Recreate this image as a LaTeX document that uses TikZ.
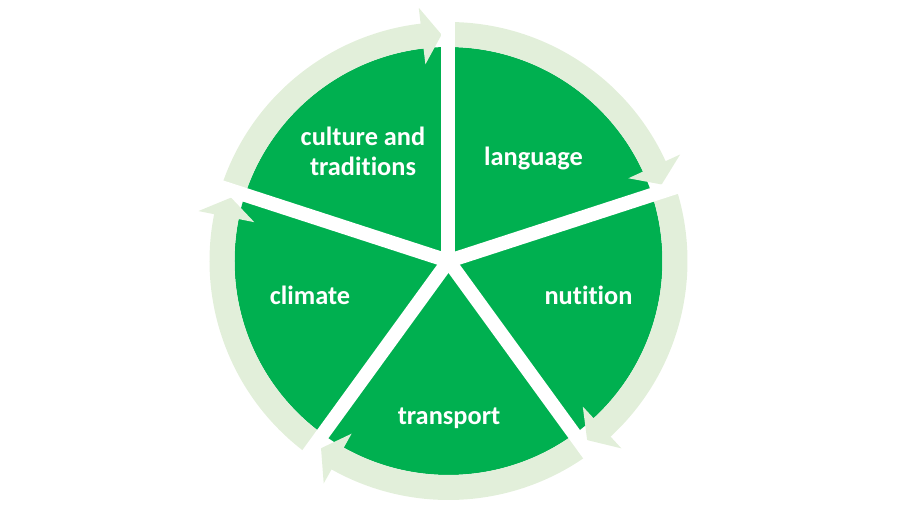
\documentclass[tikz,border=0pt]{standalone}
\usepackage{fontspec}
\setmainfont[RawFeature={-liga}]{Carlito}
\usepackage{tikz}
\definecolor{segGreen}{RGB}{0,176,80}
\definecolor{ringGreen}{RGB}{226,239,218}

\begin{document}
\begin{tikzpicture}[x=0.02cm,y=0.02cm,
    seglabel/.style={text=white,font=\bfseries\fontsize{15}{17}\selectfont,align=center}]
  \useasboundingbox (-448.5,-264) rectangle (451.5,261);
  \coordinate (O) at (0,0);
  \fill[segGreen] (O) circle (214);
  % ring of arrows, clockwise
  \foreach \b in {90,18,-54,-126,162} {
    \pgfmathsetmacro\a{\b+72}
    \pgfmathsetmacro\h{\b+6.7}
    \pgfmathsetmacro\t{\b+1.75}
    \fill[ringGreen] (\a:239) arc[start angle=\a,end angle=\h,radius=239]
      -- (\h:255) -- (\t:226.5) -- (\h:198) -- (\h:214)
      arc[start angle=\h,end angle=\a,radius=214] -- cycle;
  }
  % gaps between segments
  \foreach \b in {90,18,-54,-126,162}
    \draw[white,line width=0.28cm] (O) -- (\b:262);
  \node[seglabel] (culture) at (-85.5,110) {culture and\\traditions};
  \node[seglabel,anchor=base] (language) at (85,96) {language};
  \node[seglabel,anchor=base] (nutition) at (140,-43) {nutition};
  \node[seglabel,anchor=base] (transport) at (0.5,-163) {transport};
  \node[seglabel,anchor=base] (climate) at (-138.5,-43) {climate};
\end{tikzpicture}
\end{document}
